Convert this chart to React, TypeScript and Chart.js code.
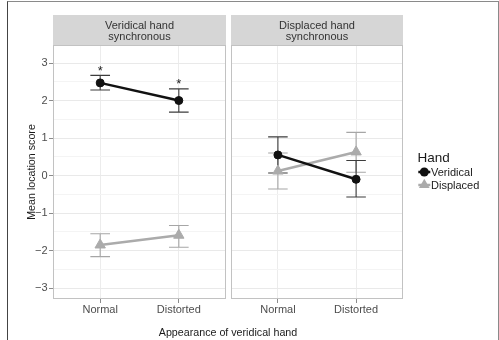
import React, { useEffect, useRef } from "react";
import { Chart, registerables } from "chart.js";

Chart.register(...registerables);

// ---------- data ----------
const categories = ["Normal", "Distorted"];
const panelTitles = [
  ["Veridical hand", "synchronous"],
  ["Displaced hand", "synchronous"],
];
const seriesNames = ["Veridical", "Displaced"];
const yTickValues = [-3, -2.5, -2, -1.5, -1, -0.5, 0, 0.5, 1, 1.5, 2, 2.5, 3];
const xAxisTitle = "Appearance of veridical hand";
const yAxisTitle = "Mean location score";
const legendTitle = "Hand";

// Panel 1: Veridical hand synchronous
const p1VeridicalMean = [2.47, 2.0];
const p1VeridicalLow = [2.28, 1.69];
const p1VeridicalHigh = [2.67, 2.31];
const p1VeridicalSig = [true, true];
const p1DisplacedMean = [-1.85, -1.59];
const p1DisplacedLow = [-2.16, -1.91];
const p1DisplacedHigh = [-1.55, -1.33];

// Panel 2: Displaced hand synchronous
const p2VeridicalMean = [0.55, -0.1];
const p2VeridicalLow = [0.07, -0.57];
const p2VeridicalHigh = [1.03, 0.4];
const p2VeridicalSig = [false, false];
const p2DisplacedMean = [0.12, 0.63];
const p2DisplacedLow = [-0.36, 0.09];
const p2DisplacedHigh = [0.6, 1.15];

// ---------- style / layout ----------
const W = 499;
const H = 340;
const FONT = '"Liberation Sans", Arial, Helvetica, sans-serif';
const VER_COLOR = "#111111";
const DIS_COLOR = "#ababab";
const VER_ERR = "#3c3c3c";
const DIS_ERR = "#a6a6a6";
const Y_MIN = -3.29;
const Y_MAX = 3.48;
const X_MIN = 0.4;
const X_MAX = 2.6;

const fmt = (v: number) => (v < 0 ? "\u2212" + Math.abs(v) : String(v));

const panelPlugin = {
  id: "panelDeco",
  beforeDatasetsDraw(chart: any) {
    const ctx = chart.ctx;
    const xs = chart.scales.x;
    const ys = chart.scales.y;
    const dsList = chart.data.datasets;
    for (let d = dsList.length - 1; d >= 0; d--) {
      const ds: any = dsList[d];
      ctx.save();
      ctx.strokeStyle = ds.errColor;
      ctx.lineWidth = 1.1;
      ds.errLow.forEach((lo: number, i: number) => {
        const hi = ds.errHigh[i];
        const x = xs.getPixelForValue(i + 1);
        const x0 = xs.getPixelForValue(i + 1 - 0.125);
        const x1 = xs.getPixelForValue(i + 1 + 0.125);
        const yl = ys.getPixelForValue(lo);
        const yh = ys.getPixelForValue(hi);
        ctx.beginPath();
        ctx.moveTo(x, yl);
        ctx.lineTo(x, yh);
        ctx.moveTo(x0, yl);
        ctx.lineTo(x1, yl);
        ctx.moveTo(x0, yh);
        ctx.lineTo(x1, yh);
        ctx.stroke();
      });
      ctx.restore();
    }
  },
  afterDatasetsDraw(chart: any) {
    const ctx = chart.ctx;
    const xs = chart.scales.x;
    const ys = chart.scales.y;
    chart.data.datasets.forEach((ds: any) => {
      if (!ds.sig) return;
      ds.sig.forEach((s: boolean, i: number) => {
        if (!s) return;
        const x = xs.getPixelForValue(i + 1);
        const y = ys.getPixelForValue(ds.errHigh[i]);
        ctx.save();
        ctx.fillStyle = "#222";
        ctx.font = `13px ${FONT}`;
        ctx.textAlign = "center";
        ctx.textBaseline = "alphabetic";
        ctx.fillText("*", x, y - 0.5);
        ctx.restore();
      });
    });
  },
  afterDraw(chart: any, _args: any, opts: any) {
    const ctx = chart.ctx;
    const a = chart.chartArea;
    ctx.save();
    // panel border
    ctx.strokeStyle = "#c2c2c2";
    ctx.lineWidth = 1;
    ctx.strokeRect(a.left + 0.5, a.top + 0.5, a.right - a.left - 1, a.bottom - a.top - 1);
    // strip
    const stripTop = 15;
    ctx.fillStyle = "#d6d6d6";
    ctx.fillRect(a.left, stripTop, a.right - a.left, a.top - stripTop);
    ctx.fillStyle = "#333";
    ctx.font = `11px ${FONT}`;
    ctx.textAlign = "center";
    ctx.textBaseline = "alphabetic";
    const cx = (a.left + a.right) / 2;
    const lines: string[] = opts.strip || [];
    lines.forEach((t, i) => ctx.fillText(t, cx, 28.8 + i * 11));
    // x axis title (shared)
    if (opts.xTitle) {
      ctx.fillStyle = "#1a1a1a";
      ctx.font = `10.7px ${FONT}`;
      ctx.fillText(opts.xTitle, 228, 335.5);
    }
    // legend
    if (opts.legend) {
      ctx.textAlign = "left";
      ctx.fillStyle = "#1a1a1a";
      ctx.font = `13.5px ${FONT}`;
      ctx.fillText(legendTitle, 417.5, 162);
      ctx.font = `11px ${FONT}`;
      const keyX = 424.3;
      const rows = [172, 185];
      seriesNames.forEach((name, i) => {
        const y = rows[i];
        const col = i === 0 ? VER_COLOR : DIS_COLOR;
        ctx.strokeStyle = col;
        ctx.fillStyle = col;
        ctx.lineWidth = 2.5;
        ctx.beginPath();
        ctx.moveTo(keyX - 6, y);
        ctx.lineTo(keyX + 6, y);
        ctx.stroke();
        ctx.beginPath();
        if (i === 0) {
          ctx.arc(keyX, y, 4.5, 0, Math.PI * 2);
        } else {
          const r = 6.2;
          ctx.moveTo(keyX, y - r);
          ctx.lineTo(keyX + r * 0.866, y + r * 0.5);
          ctx.lineTo(keyX - r * 0.866, y + r * 0.5);
          ctx.closePath();
        }
        ctx.fill();
        ctx.fillStyle = "#1a1a1a";
        ctx.fillText(name, 431, y + 4);
      });
    }
    ctx.restore();
  },
};

function makeDatasets(
  vMean: number[], vLow: number[], vHigh: number[], vSig: boolean[],
  dMean: number[], dLow: number[], dHigh: number[]
) {
  return [
    {
      label: seriesNames[0],
      data: vMean.map((y, i) => ({ x: i + 1, y })),
      borderColor: VER_COLOR,
      backgroundColor: VER_COLOR,
      borderWidth: 2.5,
      pointStyle: "circle",
      pointRadius: 4,
      pointBorderWidth: 1,
      pointHoverRadius: 4,
      errLow: vLow,
      errHigh: vHigh,
      errColor: VER_ERR,
      sig: vSig,
    },
    {
      label: seriesNames[1],
      data: dMean.map((y, i) => ({ x: i + 1, y })),
      borderColor: DIS_COLOR,
      backgroundColor: DIS_COLOR,
      borderWidth: 2.5,
      pointStyle: "triangle",
      pointRadius: 6,
      pointBorderWidth: 1,
      pointHoverRadius: 6,
      errLow: dLow,
      errHigh: dHigh,
      errColor: DIS_ERR,
    },
  ];
}

function makeConfig(panel: number): any {
  const first = panel === 0;
  const datasets = first
    ? makeDatasets(p1VeridicalMean, p1VeridicalLow, p1VeridicalHigh, p1VeridicalSig,
        p1DisplacedMean, p1DisplacedLow, p1DisplacedHigh)
    : makeDatasets(p2VeridicalMean, p2VeridicalLow, p2VeridicalHigh, p2VeridicalSig,
        p2DisplacedMean, p2DisplacedLow, p2DisplacedHigh);
  return {
    type: "line",
    data: { datasets },
    plugins: [panelPlugin],
    options: {
      responsive: false,
      animation: false,
      devicePixelRatio: 1,
      layout: {
        padding: first
          ? { left: 0, right: W - 226, top: 45, bottom: 0 }
          : { left: 231, right: W - 403, top: 45, bottom: 0 },
      },
      plugins: {
        legend: { display: false },
        tooltip: { enabled: false },
        title: { display: false },
        panelDeco: {
          strip: panelTitles[panel],
          xTitle: first ? xAxisTitle : null,
          legend: !first,
        },
      },
      scales: {
        x: {
          type: "linear",
          min: X_MIN,
          max: X_MAX,
          afterBuildTicks: (s: any) => {
            s.ticks = categories.map((_, i) => ({ value: i + 1 }));
          },
          afterFit: (s: any) => {
            s.height = 41;
          },
          ticks: {
            callback: (v: number) => categories[Math.round(v) - 1] ?? "",
            font: { size: 11, family: FONT },
            color: "#4d4d4d",
            padding: 0,
            maxRotation: 0,
            autoSkip: false,
          },
          grid: {
            color: "#ececec",
            tickColor: "#8c8c8c",
            tickLength: 4,
            lineWidth: 1,
          },
          border: { display: false },
        },
        y: {
          type: "linear",
          min: Y_MIN,
          max: Y_MAX,
          afterBuildTicks: (s: any) => {
            s.ticks = yTickValues.map((v) => ({ value: v }));
          },
          afterFit: (s: any) => {
            s.width = first ? 53 : 0;
          },
          ticks: {
            display: first,
            callback: (v: number) => (Number.isInteger(v) ? fmt(v) : ""),
            font: { size: 11, family: FONT },
            color: "#4d4d4d",
            padding: 1.5,
            autoSkip: false,
          },
          grid: {
            color: (c: any) => (Number.isInteger(c.tick?.value) ? "#e9e9e9" : "#f4f4f4"),
            tickColor: (c: any) => (Number.isInteger(c.tick?.value) ? "#8c8c8c" : "rgba(0,0,0,0)"),
            tickLength: 4,
            drawTicks: first,
            lineWidth: 1,
          },
          border: { display: false },
          title: {
            display: first,
            text: yAxisTitle,
            color: "#1a1a1a",
            font: { size: 10.7, family: FONT },
            padding: { top: 25.5, bottom: 0 },
          },
        },
      },
    },
  };
}

export default function App() {
  const ref1 = useRef<HTMLCanvasElement | null>(null);
  const ref2 = useRef<HTMLCanvasElement | null>(null);

  useEffect(() => {
    Chart.defaults.font.family = FONT;
    const c1 = new Chart(ref1.current as HTMLCanvasElement, makeConfig(0));
    const c2 = new Chart(ref2.current as HTMLCanvasElement, makeConfig(1));
    return () => {
      c1.destroy();
      c2.destroy();
    };
  }, []);

  const canvasStyle: React.CSSProperties = {
    position: "absolute",
    left: 0,
    top: 0,
    width: W,
    height: H,
  };

  return (
    <div
      style={{
        position: "fixed",
        left: 0,
        top: 0,
        width: W,
        height: H,
        background: "#fff",
        overflow: "hidden",
      }}
    >
      <canvas ref={ref1} width={W} height={H} style={canvasStyle} />
      <canvas ref={ref2} width={W} height={H} style={canvasStyle} />
      <div
        style={{
          position: "absolute",
          left: 7,
          top: 1,
          width: 490,
          height: H + 10,
          borderLeft: "1px solid #444",
          borderTop: "1px solid #8a8a8a",
          borderRight: "1px solid #8a8a8a",
          pointerEvents: "none",
        }}
      />
    </div>
  );
}
